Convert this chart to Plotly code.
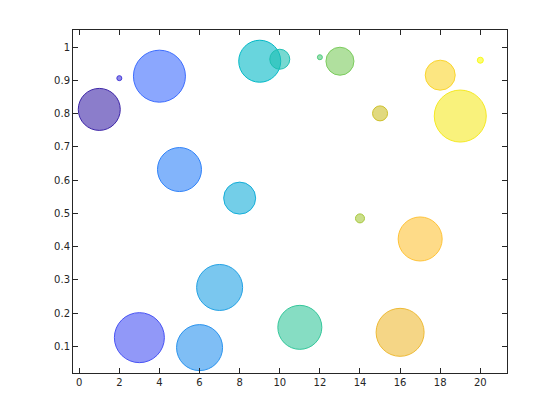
import plotly.graph_objects as go
from plotly.colors import sample_colorscale, unlabel_rgb

# Data
x_vals = list(range(1, 21))
y_vals = [0.813, 0.907, 0.126, 0.913, 0.632, 0.096, 0.277, 0.546, 0.958, 0.964,
          0.157, 0.970, 0.958, 0.485, 0.801, 0.142, 0.423, 0.916, 0.793, 0.961]
sizes = [42, 5, 50, 52, 44, 46, 46, 32, 42, 20,
         44, 5, 28, 9, 15, 48, 44, 30, 52, 6]
c_vals = list(range(1, 21))
x_ticks = list(range(0, 21, 2))
y_ticks = [0.1, 0.2, 0.3, 0.4, 0.5, 0.6, 0.7, 0.8, 0.9, 1.0]
y_ticklabels = ["0.1", "0.2", "0.3", "0.4", "0.5", "0.6", "0.7", "0.8", "0.9", "1"]

# MATLAB parula colormap (subsampled)
parula = [
    (0.2422, 0.1504, 0.6603), (0.2647, 0.1978, 0.7952), (0.2783, 0.2559, 0.8991),
    (0.2810, 0.3228, 0.9579), (0.2699, 0.3892, 0.9906), (0.2206, 0.4603, 0.9973),
    (0.1834, 0.5074, 0.9798), (0.1764, 0.5499, 0.9520), (0.1540, 0.5902, 0.9218),
    (0.1380, 0.6276, 0.8973), (0.1113, 0.6635, 0.8763), (0.0689, 0.6948, 0.8394),
    (0.0036, 0.7203, 0.7917), (0.0433, 0.7411, 0.7394), (0.1408, 0.7584, 0.6842),
    (0.1938, 0.7758, 0.6251), (0.2470, 0.7918, 0.5567), (0.3406, 0.8008, 0.4789),
    (0.4456, 0.8024, 0.3909), (0.5616, 0.7942, 0.3045), (0.6720, 0.7793, 0.2227),
    (0.7738, 0.7598, 0.1646), (0.8634, 0.7406, 0.1596), (0.9393, 0.7288, 0.2100),
    (0.9956, 0.7434, 0.2371), (0.9952, 0.7893, 0.2028), (0.9786, 0.8386, 0.1766),
    (0.9610, 0.8890, 0.1537), (0.9628, 0.9373, 0.1265), (0.9769, 0.9839, 0.0805),
]
n = len(parula)
colorscale = [[i / (n - 1), "rgb(%d,%d,%d)" % tuple(round(v * 255) for v in c)]
              for i, c in enumerate(parula)]

cmin, cmax = min(c_vals), max(c_vals)
norm = [(c - cmin) / (cmax - cmin) for c in c_vals]
edge_cols = sample_colorscale(colorscale, norm)
fill_cols = []
for col in edge_cols:
    r, g, b = unlabel_rgb(col)
    fill_cols.append("rgba(%d,%d,%d,0.6)" % (round(r), round(g), round(b)))

fig = go.Figure()
for i in range(len(x_vals)):
    fig.add_trace(go.Scatter(
        x=[x_vals[i]], y=[y_vals[i]], mode="markers",
        marker=dict(size=sizes[i], color=fill_cols[i],
                    line=dict(color=edge_cols[i], width=1)),
        showlegend=False, hoverinfo="x+y",
    ))

axis_common = dict(
    showline=True, mirror="ticks", linecolor="#262626", linewidth=1,
    ticks="inside", ticklen=5, tickcolor="#262626", tickwidth=1,
    showgrid=False, zeroline=False,
    tickfont=dict(family="DejaVu Sans, Liberation Sans, sans-serif", size=10, color="#262626"),
)
fig.update_xaxes(range=[-0.31, 21.33], tickvals=x_ticks, **axis_common)
fig.update_yaxes(range=[0.0196, 1.052], tickvals=y_ticks, ticktext=y_ticklabels, **axis_common)

fig.update_layout(
    width=560, height=420,
    margin=dict(l=65, r=61, t=22, b=55),
    paper_bgcolor="white", plot_bgcolor="white",
)
fig.write_html("out.html")
